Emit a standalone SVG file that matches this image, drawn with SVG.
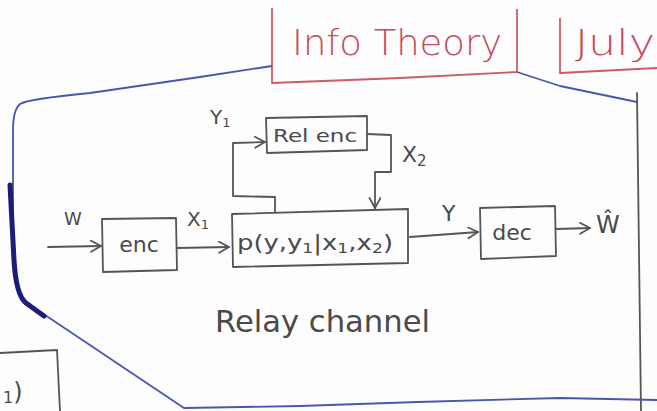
<svg xmlns="http://www.w3.org/2000/svg" width="657" height="411" viewBox="0 0 657 411">
<style>
.pen{fill:none;stroke:#555;stroke-width:1.8;stroke-linejoin:round;stroke-linecap:round}
.red{fill:none;stroke:#cc5a68;stroke-width:1.8;stroke-linejoin:round}
.blue{fill:none;stroke:#4a55b0;stroke-width:1.8;stroke-linejoin:round}
.t{font-family:"DejaVu Sans","Liberation Sans",sans-serif;fill:#4a4a4a}
.rt{font-family:"DejaVu Sans","Liberation Sans",sans-serif;fill:#c84a5c;font-weight:300}
</style>
<defs>
<marker id="ah" markerUnits="userSpaceOnUse" markerWidth="14" markerHeight="14" refX="11" refY="6" orient="auto">
<path d="M1,0.5 L11,6 L1,11.5" fill="none" stroke="#555" stroke-width="1.8" stroke-linecap="round" stroke-linejoin="round"/>
</marker>
</defs>
<rect width="657" height="411" fill="#fdfdfd"/>

<g id="header">
<path class="red" d="M272,8 L272,83 L400,78 L517,72 L517,9"/>
<text class="rt" x="292" y="55" font-size="36" textLength="210" lengthAdjust="spacingAndGlyphs">Info Theory</text>
<path class="red" d="M560,18 L560,73 L657,68"/>
<text class="rt" x="575" y="55" font-size="36" textLength="80" lengthAdjust="spacingAndGlyphs">July</text>
</g>

<g id="frame">
<path class="blue" d="M272,66 L200,77 L90,93 Q28,99 20,104 Q13,110 13,130 L13,260 Q15,295 25,302 L45,315 L184,408 L300,406 L418,402 L560,398 L657,400"/>
<path d="M10,185 L14,260 Q16,295 26,303 L44,316" fill="none" stroke="#1c1c7a" stroke-width="5" stroke-linecap="round"/>
<path class="blue" d="M517,72 L560,86 L637,102"/>
<path class="pen" d="M637,93 L641,411" stroke-width="1.5"/>
</g>

<g id="enc">
<path class="pen" d="M102,219 L176,218 L177,270 L103,272 Z"/>
<text class="t" x="139" y="252" font-size="22" text-anchor="middle">enc</text>
</g>

<g id="channel">
<path class="pen" d="M232,214 L408,209 L408,263 L233,267 Z"/>
<text class="t" x="237" y="250" font-size="21" textLength="156" lengthAdjust="spacingAndGlyphs">p(y,y<tspan font-size="14" dy="3">1</tspan><tspan dy="-3">|x</tspan><tspan font-size="14" dy="3">1</tspan><tspan dy="-3">,x</tspan><tspan font-size="14" dy="3">2</tspan><tspan dy="-3">)</tspan></text>
</g>

<g id="relay-enc">
<path class="pen" d="M266,118 L367,116 L367,150 L267,153 Z"/>
<text class="t" x="273" y="142" font-size="18" textLength="84" lengthAdjust="spacingAndGlyphs">Rel enc</text>
</g>

<g id="dec">
<path class="pen" d="M480,208 L555,206 L556,256 L481,259 Z"/>
<text class="t" x="512" y="240" font-size="22" text-anchor="middle">dec</text>
</g>

<g id="partial">
<path class="pen" d="M0,353 L57,350 L60,411"/>
<text class="t" x="3" y="400" font-size="24"><tspan font-size="16" dy="3">1</tspan><tspan dy="-3">)</tspan></text>
</g>

<g id="connectors">
<path class="pen" d="M48,247 L101,246" marker-end="url(#ah)"/>
<path class="pen" d="M177,248 L229,247" marker-end="url(#ah)"/>
<path class="pen" d="M410,237 L478,232" marker-end="url(#ah)"/>
<path class="pen" d="M556,229 L590,228" marker-end="url(#ah)"/>
<path class="pen" d="M275,212 L275,197 L233,196 L233,143 L265,142" marker-end="url(#ah)"/>
<path class="pen" d="M367,134 L391,135 L391,172 L375,172 L375,208" marker-end="url(#ah)"/>
</g>

<g id="labels">
<text class="t" x="210" y="124" font-size="20">Y<tspan font-size="13" dy="3">1</tspan></text>
<text class="t" x="402" y="162" font-size="22">X<tspan font-size="15" dy="4">2</tspan></text>
<text class="t" x="64" y="225" font-size="18">W</text>
<text class="t" x="187" y="226" font-size="20">X<tspan font-size="13" dy="3">1</tspan></text>
<text class="t" x="442" y="221" font-size="22">Y</text>
<text class="t" x="596" y="233" font-size="24">Ŵ</text>
<text class="t" x="215" y="332" font-size="30" textLength="215" lengthAdjust="spacingAndGlyphs">Relay channel</text>
</g>
</svg>
